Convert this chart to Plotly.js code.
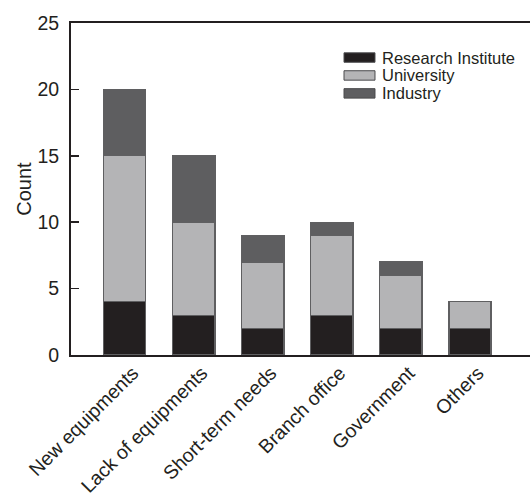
<!DOCTYPE html>
<html>
<head>
<meta charset="utf-8">
<script src="https://cdn.plot.ly/plotly-3.0.1.min.js"></script>
<style>
  html, body { margin: 0; padding: 0; background: #fff; }
  #chart { width: 530px; height: 501px; }
</style>
</head>
<body>
<div id="chart"></div>
<script>
// Reasons for collaboration, counted by partner type
const categories = ["New equipments", "Lack of equipments", "Short-term needs", "Branch office", "Government", "Others"];
const researchInstitute = [4, 3, 2, 3, 2, 2];
const university = [11, 7, 5, 6, 4, 2];
const industry = [5, 5, 2, 1, 1, 0];
const yTicks = [0, 5, 10, 15, 20, 25];

const seriesNames = ["Research Institute", "University", "Industry"];
const seriesColors = ["#231f20", "#b4b4b6", "#5e5e60"];
const seriesValues = [researchInstitute, university, industry];

const ink = "#231f20";
const outline = { color: "#5f5f61", width: 1.2 };
const font = "Liberation Sans, Arial, sans-serif";

const data = seriesNames.map((name, i) => ({
  type: "bar",
  name: name,
  x: categories,
  y: seriesValues[i],
  width: 0.61,
  marker: { color: seriesColors[i], line: outline },
  hoverinfo: "x+y+name"
}));

// Compact key in the upper right: swatch + label per series, tight row spacing
const keyLeft = 0.5948, keyRight = 0.6623, keyText = 0.673;
const keyRows = [0.896, 0.842, 0.788];
const keyHalf = 0.0142;
const shapes = seriesNames.map((name, i) => ({
  type: "rect", xref: "paper", yref: "paper",
  x0: keyLeft, x1: keyRight,
  y0: keyRows[i] - keyHalf, y1: keyRows[i] + keyHalf,
  fillcolor: seriesColors[i],
  line: { color: "#4a4a4c", width: 1 }
}));
const annotations = seriesNames.map((name, i) => ({
  xref: "paper", yref: "paper",
  x: keyText, y: keyRows[i],
  xanchor: "left", yanchor: "middle",
  text: name, showarrow: false,
  font: { family: font, size: 16.5, color: ink }
}));

const layout = {
  width: 530,
  height: 501,
  margin: { l: 71, r: 0, t: 23, b: 146 },
  barmode: "stack",
  paper_bgcolor: "#fff",
  plot_bgcolor: "#fff",
  font: { family: font, color: ink, size: 19 },
  showlegend: false,
  shapes: shapes,
  annotations: annotations,
  xaxis: {
    type: "category",
    range: [-0.78, 5.87],
    showline: true, linecolor: ink, linewidth: 2,
    mirror: true,
    ticks: "", showgrid: false, zeroline: false,
    tickangle: -45,
    ticklabelshift: 8,
    ticklabelstandoff: -3,
    tickfont: { family: font, size: 19.5, color: ink }
  },
  yaxis: {
    range: [0, 25],
    tickvals: yTicks,
    ticks: "inside", ticklen: 8, tickwidth: 1.5, tickcolor: ink,
    ticklabelstandoff: 6,
    showline: true, linecolor: ink, linewidth: 2,
    showgrid: false, zeroline: false,
    tickfont: { family: font, size: 19.5, color: ink },
    title: { text: "Count", font: { family: font, size: 20, color: ink }, standoff: 0 }
  }
};

Plotly.newPlot("chart", data, layout, { displayModeBar: false, staticPlot: true });
</script>
</body>
</html>
